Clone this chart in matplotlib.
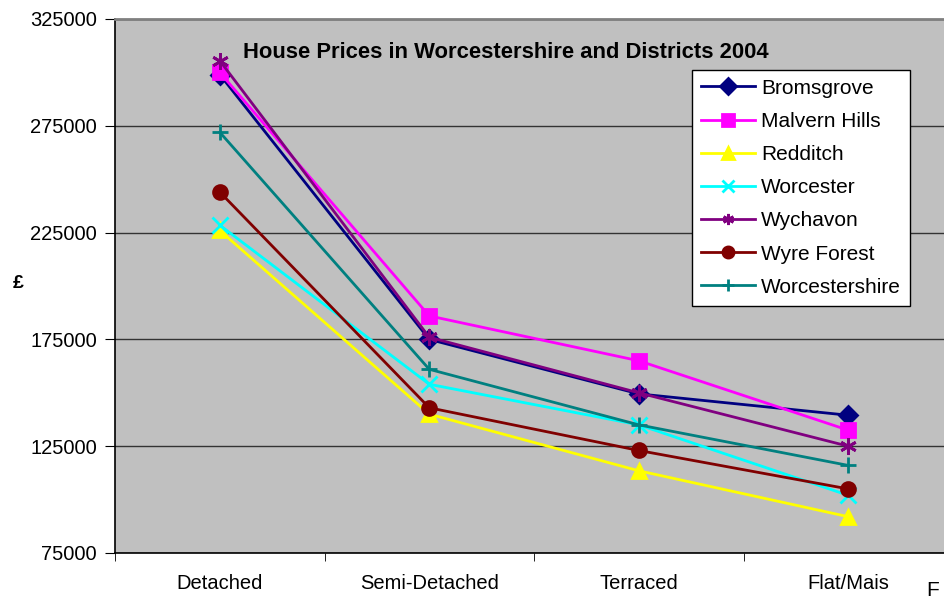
import matplotlib
matplotlib.use("Agg")
import matplotlib.pyplot as plt

# house prices by property type
property_types = ["Detached", "Semi-Detached", "Terraced", "Flat/Mais"]
bromsgrove = [299000, 175000, 149500, 139500]
malvern_hills = [300000, 186000, 165000, 132500]
redditch = [226000, 140000, 113500, 92000]
worcester = [228500, 154000, 135000, 102000]
wychavon = [305500, 176000, 150000, 125000]
wyre_forest = [244000, 143000, 123000, 105000]
worcestershire = [272000, 161000, 135000, 116000]

series = [
    ("Bromsgrove", bromsgrove, "#000080", "D", 9),
    ("Malvern Hills", malvern_hills, "#FF00FF", "s", 10),
    ("Redditch", redditch, "#FFFF00", "^", 10),
    ("Worcester", worcester, "#00FFFF", "x", 11),
    ("Wychavon", wychavon, "#800080", (6, 2, 0), 12),
    ("Wyre Forest", wyre_forest, "#800000", "o", 10),
    ("Worcestershire", worcestershire, "#008080", "+", 12),
]

plt.rcParams["font.family"] = ["Liberation Sans", "DejaVu Sans"]

fig = plt.figure(figsize=(9.44, 6), dpi=100)
W, H = 944, 600
left, right, top, bottom = 115, 953, 19, 553
ax = fig.add_axes([left / W, 1 - bottom / H, (right - left) / W, (bottom - top) / H])
ax.set_facecolor("#C0C0C0")

x = list(range(len(property_types)))
for name, vals, col, mk, ms in series:
    ax.plot(x, vals, color=col, marker=mk, markersize=ms, linewidth=2,
            markeredgewidth=2, label=name)

ax.set_xlim(-0.5, 3.5)
ax.set_ylim(75000, 325000)
ax.set_yticks(range(75000, 325001, 50000))
ax.set_yticklabels([str(v) for v in range(75000, 325001, 50000)], fontsize=14.5)
ax.grid(axis="y", color="#333333", linewidth=1)
ax.set_axisbelow(True)

ax.set_xticks(x)
ax.set_xticklabels(property_types, fontsize=14.5)
ax.tick_params(axis="x", which="major", length=0, pad=15)
ax.set_xticks([-0.5, 0.5, 1.5, 2.5, 3.5], minor=True)
ax.tick_params(axis="x", which="minor", length=6, color="black")
ax.tick_params(axis="y", length=7, color="black", pad=6)

ax.spines["top"].set_color("#808080")
ax.spines["top"].set_linewidth(2)
ax.spines["right"].set_visible(False)
ax.spines["left"].set_color("black")
ax.spines["bottom"].set_color("black")
ax.spines["left"].set_linewidth(1.2)
ax.spines["bottom"].set_linewidth(1.2)

fig.text(243 / W, 1 - 53 / H, "House Prices in Worcestershire and Districts 2004",
         fontsize=15.8, fontweight="bold", va="center", ha="left")
fig.text(18 / W, 1 - 283 / H, "£", fontsize=14, fontweight="bold",
         va="center", ha="center")
fig.text(926 / W, 1 - 591 / H, "F", fontsize=15, va="center", ha="left")

leg = ax.legend(loc="upper left", bbox_to_anchor=(692 / W, 1 - 70 / H),
                bbox_transform=fig.transFigure, fontsize=15, frameon=True,
                fancybox=False, framealpha=1, edgecolor="black",
                handlelength=2.6, labelspacing=0.68, borderpad=0.42,
                handletextpad=0.3, borderaxespad=0)
leg.get_frame().set_linewidth(1)
for h in leg.legend_handles:
    h.set_markersize(8)

fig.savefig("out.png", dpi=100)
